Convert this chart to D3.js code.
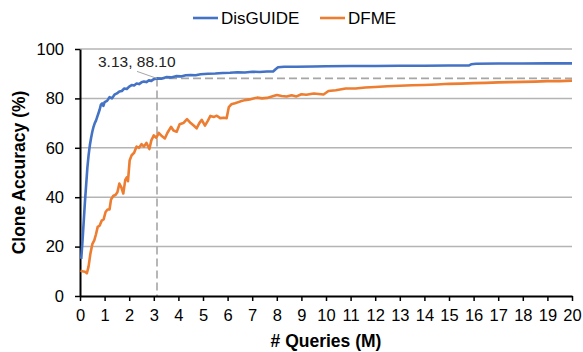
<!DOCTYPE html>
<html>
<head>
<meta charset="utf-8">
<script src="https://cdn.jsdelivr.net/npm/d3@7"></script>
<style>
  body { margin: 0; background: #fff; }
  svg { display: block; font-family: "Liberation Sans", Arial, sans-serif; }
</style>
</head>
<body>
<div id="chart"></div>
<script>
// chart data
const xTicks = d3.range(0, 21);
const yTicks = [0, 20, 40, 60, 80, 100];

const seriesNames = ['DisGUIDE', 'DFME'];
const seriesColors = ['#4472C4', '#ED7D31'];

const disguide = [
  [0.05, 15], [0.1, 22], [0.15, 30], [0.2, 38], [0.25, 45], [0.3, 52], [0.35, 57],
  [0.4, 61], [0.45, 64], [0.5, 66.5], [0.55, 68.5], [0.6, 70], [0.65, 71], [0.7, 72.5],
  [0.75, 74], [0.8, 75.5], [0.85, 77.5], [0.9, 78], [0.95, 77], [1.0, 78.5], [1.1, 79],
  [1.2, 80.5], [1.3, 80], [1.4, 81.5], [1.5, 82], [1.6, 82.8], [1.7, 83], [1.8, 84],
  [1.9, 83.8], [2.0, 84.8], [2.1, 85.4], [2.2, 85.2], [2.3, 86], [2.4, 85.8], [2.5, 86.5],
  [2.6, 86.8], [2.7, 86.6], [2.8, 87.3], [2.9, 87.1], [3.0, 87.8], [3.13, 88.1], [3.3, 88],
  [3.5, 88.6], [3.7, 88.5], [3.9, 89], [4.1, 88.9], [4.3, 89.4], [4.5, 89.5], [4.7, 89.4],
  [4.9, 89.8], [5.2, 90], [5.5, 90.1], [5.8, 90.3], [6.1, 90.4], [6.4, 90.6], [6.7, 90.5],
  [7.0, 90.8], [7.3, 90.7], [7.6, 90.9], [7.85, 90.9], [7.95, 91.8], [8.05, 92.6], [8.3, 92.8],
  [8.8, 92.8], [9.5, 92.9], [10, 93], [11, 93.1], [12, 93.1], [13, 93.2], [14, 93.2],
  [15, 93.3], [15.8, 93.3], [15.9, 93.8], [16.1, 94], [17, 94.1], [18, 94.1], [19, 94.2], [20, 94.2]
];

const dfme = [
  [0.02, 10.2], [0.1, 10], [0.2, 9.8], [0.28, 9.2], [0.35, 12], [0.42, 17], [0.5, 21],
  [0.58, 22.5], [0.65, 25], [0.72, 28], [0.8, 28.5], [0.88, 30.5], [0.96, 31], [1.04, 34],
  [1.12, 35], [1.2, 35], [1.26, 39], [1.35, 40.5], [1.45, 41], [1.52, 42], [1.6, 45.5],
  [1.68, 44], [1.76, 41.5], [1.84, 47], [1.9, 48], [1.95, 46.5], [2.02, 55], [2.1, 57],
  [2.2, 58], [2.3, 60.5], [2.4, 60], [2.5, 61.5], [2.6, 60.5], [2.7, 62], [2.82, 59.5],
  [2.9, 63], [3.0, 65], [3.1, 64], [3.2, 66], [3.3, 65], [3.45, 63.8], [3.55, 66], [3.7, 68.5],
  [3.8, 67], [3.93, 66.5], [4.05, 69.5], [4.2, 70], [4.35, 71.6], [4.5, 70], [4.62, 69],
  [4.74, 67.9], [4.85, 70], [4.95, 71.3], [5.08, 69], [5.2, 71], [5.3, 72.9], [5.45, 72.5],
  [5.56, 73], [5.7, 72], [5.85, 72.2], [5.96, 72], [6.05, 76.5], [6.15, 77.6], [6.3, 78],
  [6.5, 78.7], [6.7, 79.3], [6.9, 79.6], [7.05, 80], [7.2, 80.3], [7.4, 80], [7.6, 80.2],
  [7.8, 80.8], [8.0, 81.4], [8.2, 81], [8.4, 80.8], [8.6, 81.3], [8.8, 80.8], [9.0, 81.7],
  [9.2, 81.5], [9.5, 82], [9.7, 81.8], [9.9, 81.6], [10.1, 83], [10.4, 83.3], [10.8, 84],
  [11.2, 84], [11.6, 84.4], [12, 84.6], [12.5, 84.9], [13, 85.1], [13.5, 85.3], [14, 85.4],
  [14.5, 85.6], [15, 85.9], [15.5, 86], [16, 86.2], [16.5, 86.3], [17, 86.5], [17.5, 86.6],
  [18, 86.7], [18.5, 86.8], [19, 87], [19.5, 87], [20, 87.2]
];

const marker = [3.13, 88.10];
const markerLabel = '3.13, 88.10';

const width = 583, height = 352;
const margin = { top: 49, right: 11, bottom: 56, left: 80 };
const w = width - margin.left - margin.right;
const h = height - margin.top - margin.bottom;

const svg = d3.select('#chart').append('svg')
  .attr('width', width)
  .attr('height', height);

const g = svg.append('g')
  .attr('transform', `translate(${margin.left},${margin.top})`);

const x = d3.scaleLinear().domain([0, 20]).range([0, w]);
const y = d3.scaleLinear().domain([0, 100]).range([h, 0]);

// gridlines
g.selectAll('.grid')
  .data(yTicks.filter(d => d > 0))
  .enter().append('line')
  .attr('x1', 0)
  .attr('x2', w)
  .attr('y1', d => y(d))
  .attr('y2', d => y(d))
  .attr('stroke', '#B4B4B4')
  .attr('stroke-width', 1.5);

// dashed guides to the marked point
g.append('line')
  .attr('x1', x(marker[0])).attr('x2', x(marker[0]))
  .attr('y1', y(marker[1])).attr('y2', y(0))
  .attr('stroke', '#A6A6A6').attr('stroke-width', 1.6)
  .attr('stroke-dasharray', '8,4');

g.append('line')
  .attr('x1', x(marker[0])).attr('x2', x(20))
  .attr('y1', y(marker[1])).attr('y2', y(marker[1]))
  .attr('stroke', '#A6A6A6').attr('stroke-width', 1.6)
  .attr('stroke-dasharray', '8,4');

// axes
const xAxis = g.append('g')
  .attr('transform', `translate(0,${h})`)
  .call(d3.axisBottom(x).tickValues(xTicks).tickSizeInner(5).tickSizeOuter(0).tickPadding(8));

const yAxis = g.append('g')
  .call(d3.axisLeft(y).tickValues(yTicks).tickSizeInner(5).tickSizeOuter(0).tickPadding(11));

[xAxis, yAxis].forEach(a => {
  a.select('.domain').attr('stroke', '#000').attr('stroke-width', 2);
  a.selectAll('.tick line').attr('stroke', '#000').attr('stroke-width', 1.5);
  a.selectAll('.tick text')
    .attr('fill', '#000')
    .style('font-size', '16.5px')
    .style('font-family', '"Liberation Sans", Arial, sans-serif');
});

// lines
const line = d3.line()
  .x(d => x(d[0]))
  .y(d => y(d[1]));

[disguide, dfme].forEach((data, i) => {
  g.append('path')
    .datum(data)
    .attr('fill', 'none')
    .attr('stroke', seriesColors[i])
    .attr('stroke-width', 2.6)
    .attr('stroke-linejoin', 'round')
    .attr('d', line);
});

// annotation
g.append('line')
  .attr('x1', x(marker[0]) - 20).attr('y1', y(marker[1]) - 7)
  .attr('x2', x(marker[0])).attr('y2', y(marker[1]))
  .attr('stroke', '#A6A6A6').attr('stroke-width', 1);

g.append('text')
  .attr('x', x(marker[0]) - 59)
  .attr('y', y(marker[1]) - 11)
  .style('font-size', '15.5px')
  .attr('fill', '#222')
  .text(markerLabel);

// legend
const legendItems = [
  { name: seriesNames[0], color: seriesColors[0], x0: 193 },
  { name: seriesNames[1], color: seriesColors[1], x0: 320 }
];
const legend = svg.append('g');
legendItems.forEach(d => {
  legend.append('line')
    .attr('x1', d.x0).attr('x2', d.x0 + 25)
    .attr('y1', 18).attr('y2', 18)
    .attr('stroke', d.color).attr('stroke-width', 2.6);
  legend.append('text')
    .attr('x', d.x0 + 28)
    .attr('y', 24)
    .style('font-size', '17px')
    .attr('fill', '#000')
    .text(d.name);
});

// axis titles
svg.append('text')
  .attr('x', margin.left + w / 2)
  .attr('y', 347)
  .attr('text-anchor', 'middle')
  .style('font-size', '17.5px')
  .style('font-weight', 'bold')
  .text('# Queries (M)');

svg.append('text')
  .attr('transform', `translate(25,${margin.top + h / 2}) rotate(-90)`)
  .attr('text-anchor', 'middle')
  .style('font-size', '17.5px')
  .style('font-weight', 'bold')
  .text('Clone Accuracy (%)');
</script>
</body>
</html>
